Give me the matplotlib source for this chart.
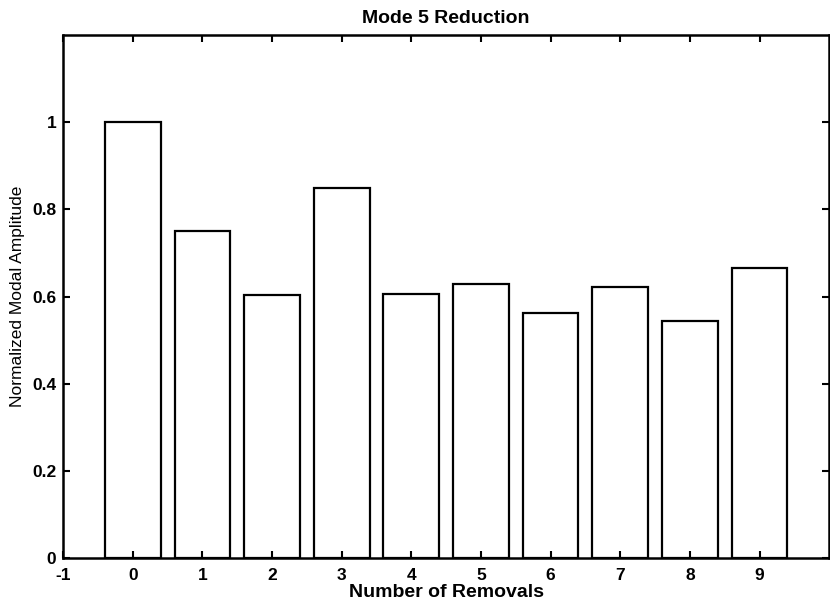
import numpy as np
import matplotlib
matplotlib.use("Agg")
import matplotlib.pyplot as plt

# valores
removals = np.arange(10)
amplitude = [1.0, 0.75, 0.603, 0.849, 0.605, 0.628, 0.563, 0.622, 0.545, 0.666]
yticks = [0, 0.2, 0.4, 0.6, 0.8, 1]
ytick_labels = ["0", "0.2", "0.4", "0.6", "0.8", "1"]
xticks = np.arange(-1, 10)

plt.rcParams['font.family'] = ['Liberation Sans', 'DejaVu Sans']
plt.rcParams['font.weight'] = 'bold'
plt.rcParams['axes.unicode_minus'] = False

fig = plt.figure(figsize=(8.3, 6.06), dpi=100)
ax = fig.add_axes([0.076, 0.079, 0.923, 0.863])

ax.bar(removals, amplitude, width=0.8, color='white', edgecolor='black', linewidth=1.6)

ax.set_xlim(-1, 10)
ax.set_ylim(0, 1.2)
ax.set_xticks(xticks)
ax.set_yticks(yticks)
ax.set_yticklabels(ytick_labels)
ax.tick_params(direction='in', top=True, right=True, length=5, width=1.5,
               labelsize=12.5)
ax.tick_params(axis='x', pad=7)
ax.tick_params(axis='y', pad=5)
for s in ax.spines.values():
    s.set_linewidth(1.8)

ax.set_title("Mode 5 Reduction", fontsize=14, fontweight='bold', pad=9)
ax.set_xlabel("Number of Removals", fontsize=14, fontweight='bold', labelpad=1)
ax.set_ylabel("Normalized Modal Amplitude", fontsize=12.5, fontweight='normal', labelpad=5)

fig.savefig("out.png", dpi=100)
